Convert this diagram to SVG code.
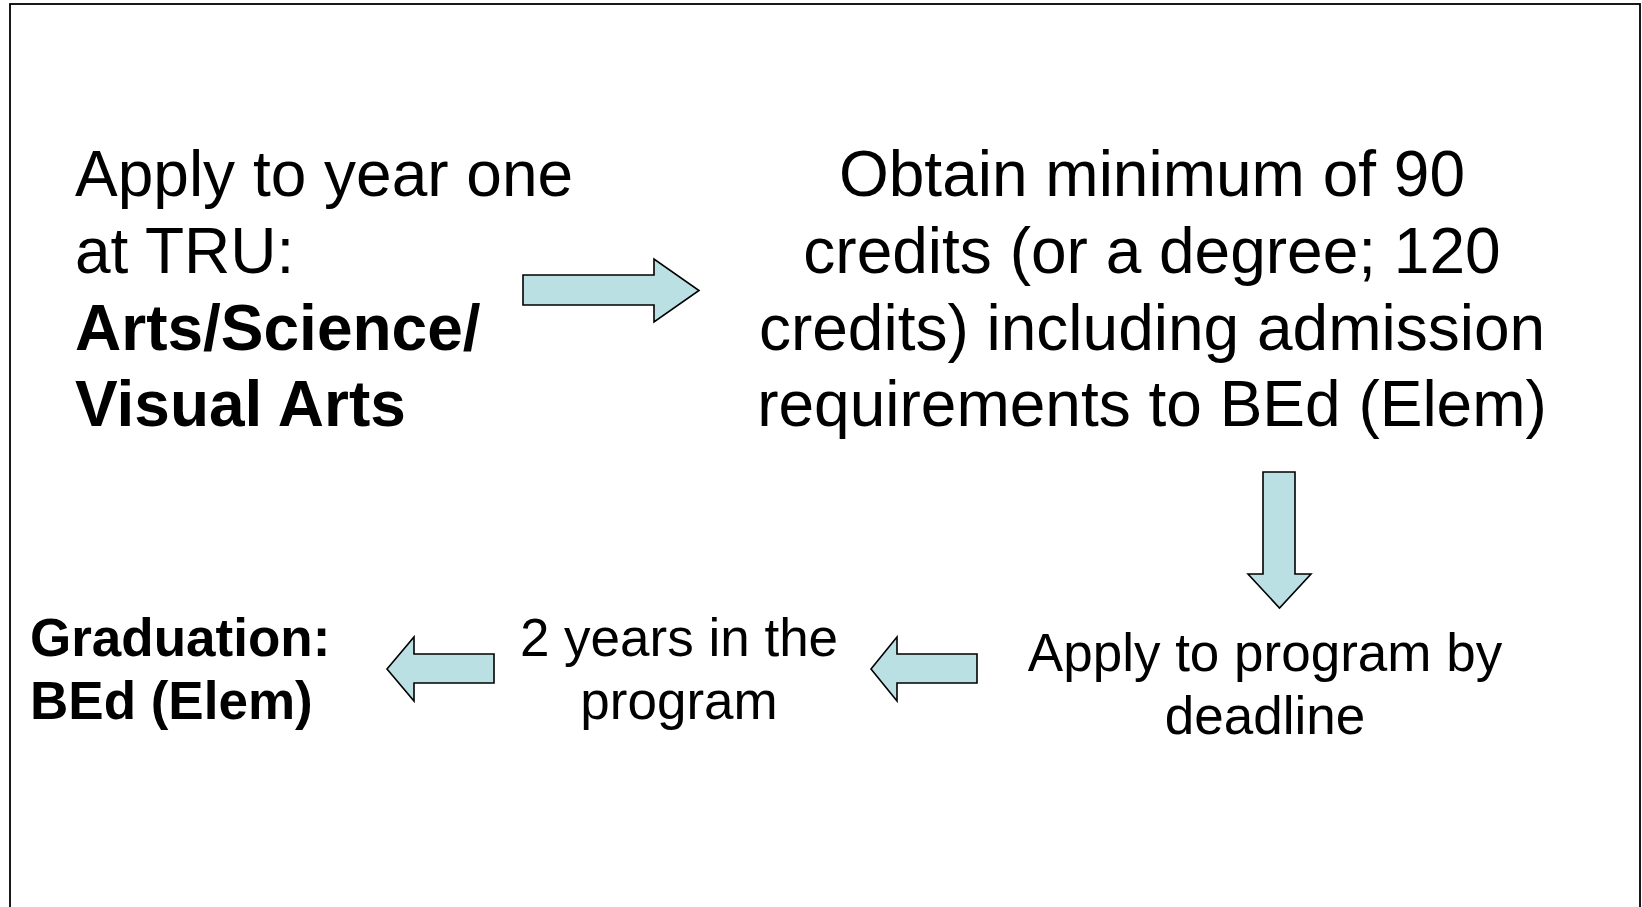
<svg xmlns="http://www.w3.org/2000/svg" width="1642" height="907" viewBox="0 0 1642 907">
<style>
.t{font-family:"Liberation Sans",Arial,sans-serif;fill:#000}
.b{font-weight:bold}
.arrow{fill:#BBE0E3;stroke:#000;stroke-width:1.6;stroke-linejoin:miter}
</style>
<rect x="0" y="0" width="1642" height="907" fill="#fff"/>
<rect x="10" y="4" width="1630" height="930" fill="none" stroke="#000" stroke-width="1.8"/>
<g id="node-apply-year-one">
<text class="t" font-size="64" x="75" y="196">Apply to year one</text>
<text class="t" font-size="64" x="75" y="273">at TRU:</text>
<text class="t b" font-size="64" x="75" y="350">Arts/Science/</text>
<text class="t b" font-size="64" x="75" y="426">Visual Arts</text>
</g>
<g id="node-obtain-credits">
<text class="t" font-size="64" x="1152" y="196" text-anchor="middle">Obtain minimum of 90</text>
<text class="t" font-size="64" x="1152" y="273" text-anchor="middle">credits (or a degree; 120</text>
<text class="t" font-size="64" x="1152" y="350" text-anchor="middle">credits) including admission</text>
<text class="t" font-size="64" x="1152" y="426" text-anchor="middle">requirements to BEd (Elem)</text>
</g>
<g id="node-apply-program">
<text class="t" font-size="53" x="1265" y="671" text-anchor="middle">Apply to program by</text>
<text class="t" font-size="53" x="1265" y="734" text-anchor="middle">deadline</text>
</g>
<g id="node-two-years">
<text class="t" font-size="53" x="679" y="656" text-anchor="middle">2 years in the</text>
<text class="t" font-size="53" x="679" y="719" text-anchor="middle">program</text>
</g>
<g id="node-graduation">
<text class="t b" font-size="53" x="30" y="656">Graduation:</text>
<text class="t b" font-size="53" x="30" y="719">BEd (Elem)</text>
</g>
<g id="connectors">
<polygon class="arrow" points="523,275 654,275 654,259 699,290.5 654,322 654,305 523,305"/>
<polygon class="arrow" points="1263,472 1295,472 1295,574 1311,574 1279.5,608 1248,574 1263,574"/>
<polygon class="arrow" points="977,654 897,654 897,637 871,669 897,701 897,683 977,683"/>
<polygon class="arrow" points="494,654 414,654 414,637 387,669 414,701 414,683 494,683"/>
</g>
</svg>
